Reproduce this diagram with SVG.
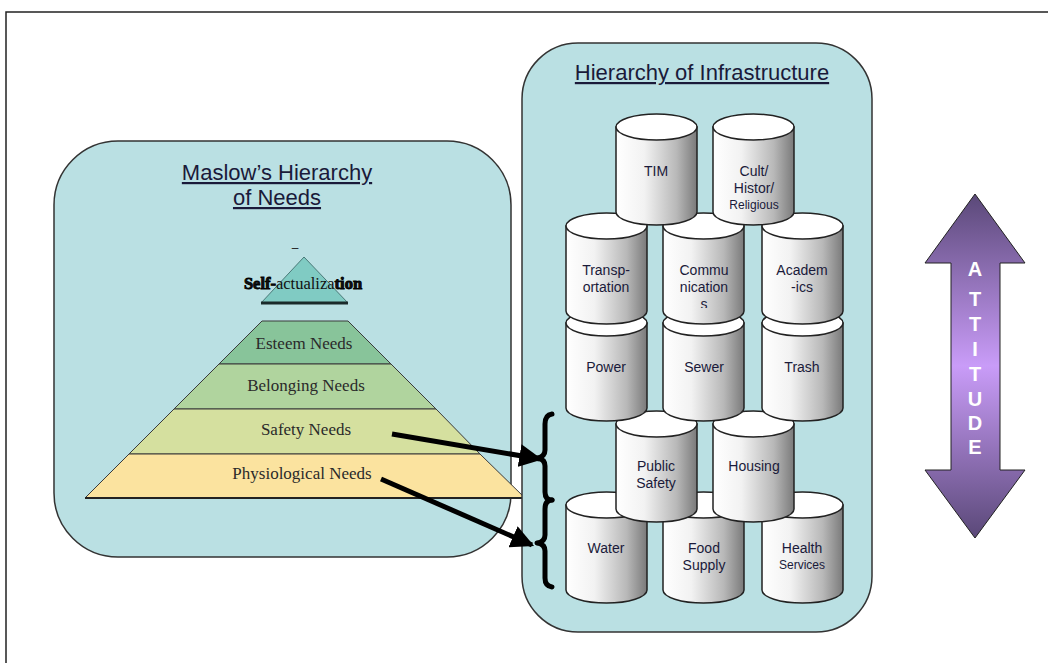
<svg xmlns="http://www.w3.org/2000/svg" width="1048" height="663" viewBox="0 0 1048 663">
  <defs>
    <linearGradient id="canShade" x1="0" y1="0" x2="1" y2="0">
      <stop offset="0" stop-color="#ffffff"/>
      <stop offset="0.35" stop-color="#f2f2f2"/>
      <stop offset="0.75" stop-color="#b8b8b8"/>
      <stop offset="1" stop-color="#7a7a7a"/>
    </linearGradient>
    <linearGradient id="attShade" x1="0" y1="0" x2="0" y2="1">
      <stop offset="0" stop-color="#5a4878"/>
      <stop offset="0.5" stop-color="#c99cf8"/>
      <stop offset="1" stop-color="#5a4878"/>
    </linearGradient>
    <symbol id="can" overflow="visible">
      <path d="M0,0 L0,85 A40.5,13 0 0 0 81,85 L81,0 Z" fill="url(#canShade)" stroke="#222" stroke-width="1.5"/>
      <ellipse cx="40.5" cy="0" rx="40.5" ry="13" fill="#ffffff" stroke="#222" stroke-width="1.5"/>
    </symbol>
    <marker id="head" viewBox="0 0 10 10" refX="9" refY="5" markerWidth="4.6" markerHeight="4.6" orient="auto" markerUnits="strokeWidth">
      <path d="M0,0 L10,5 L0,10 Z" fill="#000"/>
    </marker>
    <clipPath id="commClip">
      <rect x="663" y="250" width="81" height="58"/>
    </clipPath>
  </defs>
  <style>
    .panel { fill: #bae0e3; stroke: #333; stroke-width: 1.5; }
    .title { font-family: "Liberation Sans", Arial, sans-serif; font-size: 22px; fill: #1a1a3a; text-anchor: middle; text-decoration: underline; }
    .lvl { font-family: "Liberation Serif", "DejaVu Serif", serif; font-size: 17px; fill: #2a2a2a; text-anchor: middle; }
    .lvlshape { stroke: #3a3a3a; stroke-width: 1; }
    .lbl { font-family: "Liberation Sans", Arial, sans-serif; font-size: 14px; fill: #1a1a3a; text-anchor: middle; }
    .small { font-size: 12px; }
    .att { font-family: "Liberation Sans", Arial, sans-serif; font-size: 20px; font-weight: bold; fill: #ffffff; text-anchor: middle; }
    .brace { fill: none; stroke: #000; stroke-width: 5; stroke-linejoin: round; stroke-linecap: round; }
    .link { fill: none; stroke: #000; stroke-width: 5; }
  </style>

  <rect width="1048" height="663" fill="#ffffff"/>
  <!-- page frame -->
  <path d="M6,663 L6,12 L1048,12" fill="none" stroke="#222" stroke-width="1.5"/>

  <!-- Maslow panel -->
  <g id="maslow">
    <rect class="panel" x="54" y="141" width="457" height="416" rx="64" ry="64"/>
    <text class="title" x="277" y="180">Maslow’s Hierarchy</text>
    <text class="title" x="277" y="205">of Needs</text>

    <g id="self-actualization">
      <text x="295" y="252" font-family="Liberation Sans, sans-serif" font-size="12" fill="#222" text-anchor="middle">–</text>
      <path d="M304,257 L348,303 L261,303 Z" fill="#80cbc3" stroke="#4a7a78" stroke-width="1"/>
      <line x1="261" y1="303" x2="348" y2="303" stroke="#1a2a2a" stroke-width="3"/>
      <text x="303" y="289" font-family="Liberation Serif, serif" font-size="16.5" fill="#111" text-anchor="middle"><tspan font-weight="bold" stroke="#000" stroke-width="0.9">Self-</tspan>actualiza<tspan font-weight="bold" stroke="#000" stroke-width="0.9">tion</tspan></text>
    </g>
    <g id="esteem">
      <path class="lvlshape" d="M262,321 L348,321 L391,364 L219,364 Z" fill="#88c49a"/>
      <text class="lvl" x="304" y="349">Esteem Needs</text>
    </g>
    <g id="belonging">
      <path class="lvlshape" d="M219,364 L391,364 L436,409 L174,409 Z" fill="#b0d49e"/>
      <text class="lvl" x="306" y="391">Belonging Needs</text>
    </g>
    <g id="safety">
      <path class="lvlshape" d="M174,409 L436,409 L480,454 L129,454 Z" fill="#d5e09f"/>
      <text class="lvl" x="306" y="435">Safety Needs</text>
    </g>
    <g id="physiological">
      <path class="lvlshape" d="M129,454 L480,454 L525,498 L85,498 Z" fill="#fbe39f"/>
      <line x1="85" y1="498" x2="525" y2="498" stroke="#222" stroke-width="2"/>
      <text class="lvl" x="302" y="479">Physiological Needs</text>
    </g>
  </g>

  <!-- Infrastructure panel -->
  <g id="infrastructure">
    <rect class="panel" x="522" y="43" width="350" height="589" rx="56" ry="56"/>
    <text class="title" x="702" y="80" font-size="21">Hierarchy of Infrastructure</text>

    <!-- bottom row drawn first so upper cans sit on top -->
    <g id="water"><use href="#can" x="566" y="505"/><text class="lbl" x="606" y="553">Water</text></g>
    <g id="food-supply"><use href="#can" x="663" y="505"/><text class="lbl" x="704" y="553">Food</text><text class="lbl" x="704" y="570">Supply</text></g>
    <g id="health-services"><use href="#can" x="762" y="505"/><text class="lbl" x="802" y="553">Health</text><text class="lbl small" x="802" y="569">Services</text></g>

    <g id="public-safety"><use href="#can" x="616" y="424"/><text class="lbl" x="656" y="471">Public</text><text class="lbl" x="656" y="488">Safety</text></g>
    <g id="housing"><use href="#can" x="713" y="424"/><text class="lbl" x="754" y="471">Housing</text></g>

    <g id="power"><use href="#can" x="566" y="323"/><text class="lbl" x="606" y="372">Power</text></g>
    <g id="sewer"><use href="#can" x="663" y="323"/><text class="lbl" x="704" y="372">Sewer</text></g>
    <g id="trash"><use href="#can" x="762" y="323"/><text class="lbl" x="802" y="372">Trash</text></g>

    <g id="transportation"><use href="#can" x="566" y="226"/><text class="lbl" x="606" y="275">Transp-</text><text class="lbl" x="606" y="292">ortation</text></g>
    <g id="communications"><use href="#can" x="663" y="226"/>
      <g clip-path="url(#commClip)"><text class="lbl" x="704" y="275">Commu</text><text class="lbl" x="704" y="292">nication</text><text class="lbl" x="704" y="309">s</text></g>
    </g>
    <g id="academics"><use href="#can" x="762" y="226"/><text class="lbl" x="802" y="275">Academ</text><text class="lbl" x="802" y="292">-ics</text></g>

    <g id="tim"><use href="#can" x="616" y="127"/><text class="lbl" x="656" y="176">TIM</text></g>
    <g id="cultural"><use href="#can" x="713" y="127"/><text class="lbl" x="754" y="176">Cult/</text><text class="lbl" x="754" y="193">Histor/</text><text class="lbl small" x="754" y="209">Religious</text></g>
  </g>

  <!-- attitude arrow -->
  <g id="attitude">
    <path d="M975,194 L1025,263 L1000,263 L1000,470 L1025,470 L975,538 L925,470 L951,470 L951,263 L925,263 Z" fill="url(#attShade)" stroke="#222" stroke-width="1"/>
    <text class="att" x="975" y="276">A</text>
    <text class="att" x="975" y="306">T</text>
    <text class="att" x="975" y="331">T</text>
    <text class="att" x="975" y="356">I</text>
    <text class="att" x="975" y="381">T</text>
    <text class="att" x="975" y="406">U</text>
    <text class="att" x="975" y="430">D</text>
    <text class="att" x="975" y="454">E</text>
  </g>

  <!-- connectors: needs to infrastructure tiers -->
  <g id="connectors">
    <path class="brace" d="M552,414 Q545,415 545,424 L545,450 Q545,457 537,458 Q545,459 545,466 L545,492 Q545,500 552,500"/>
    <path class="brace" d="M552,500 Q545,500 545,509 L545,535 Q545,542 537,543 Q545,544 545,551 L545,578 Q545,586 552,587"/>
    <line class="link" x1="392" y1="434" x2="540" y2="459" marker-end="url(#head)"/>
    <line class="link" x1="381" y1="479" x2="532" y2="545" marker-end="url(#head)"/>
  </g>
</svg>
